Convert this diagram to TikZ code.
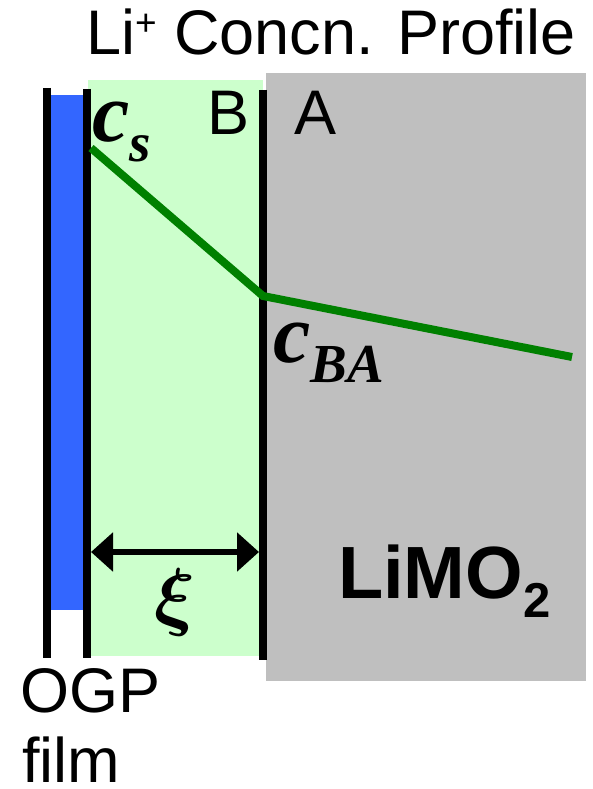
\RequirePackage{fix-cm}
\documentclass[tikz,border=0pt]{standalone}
\usepackage{bm}
\usepackage{fontspec}
\setmainfont{Liberation Sans}
\newfontfamily\tnr{Liberation Serif}
\usepackage{tikz}
\usetikzlibrary{arrows.meta}
\usepackage{xcolor}

\definecolor{filmblue}{HTML}{3366FF}
\definecolor{layergreen}{HTML}{CCFFCC}
\definecolor{profgreen}{HTML}{008000}

\newcommand{\conc}[1]{{\tnr\bfseries\itshape\fontsize{84}{84}\selectfont c\raisebox{-20pt}{\fontsize{55}{55}\selectfont #1}}}

\begin{document}
\begin{tikzpicture}[x=1pt, y=-1pt,
    wall/.style={line width=7.7pt},
    lbl/.style={inner sep=0pt, anchor=base west, font=\fontsize{63}{63}\selectfont},
    conclbl/.style={inner sep=0pt, anchor=base west}]
    \useasboundingbox (0,0) rectangle (592,789);

    % 各层区域
    \fill[gray!50] (266,73) rectangle (586,681);
    \fill[layergreen] (88,80) rectangle (263,656);
    \fill[filmblue] (47,95) rectangle (87,610);

    % 界面
    \draw[wall] (47,88) -- (47,658);
    \draw[wall] (87,89) -- (87,658);
    \draw[wall] (263,90) -- (263,660);

    % 浓度曲线
    \coordinate (cs) at (91,148);
    \coordinate (cba) at (263,296);
    \coordinate (cend) at (572,357);
    \draw[profgreen, line width=8pt] (cs) -- (cba) -- (cend);

    % 厚度 xi
    \coordinate (xil) at (91,552);
    \coordinate (xir) at (259,552);
    \draw[line width=6pt, {Triangle[length=22pt,width=38pt]}-{Triangle[length=22pt,width=38pt]}] (xil) -- (xir);
    \node[inner sep=0pt, anchor=base] (xi) at (175,621) {\fontsize{76}{76}\selectfont$\bm{\xi}$};

    % 文字
    \node[lbl] (title) at (86,55) {Li\raisebox{19pt}{\fontsize{37}{37}\selectfont +} Concn. Profile};
    \node[lbl] (lb) at (207,135) {B};
    \node[lbl] (la) at (294,135) {A};
    \node[lbl] (ogp) at (20,712) {OGP};
    \node[lbl] (film) at (22,782) {film};
    \node[conclbl] (ncs) at (92,142) {\conc{s}};
    \node[conclbl] (ncba) at (273,362) {\conc{BA}};
    \node[inner sep=0pt, anchor=base west, font=\bfseries\fontsize{74}{74}\selectfont] (limo) at (338,598) {LiMO\raisebox{-19pt}{\fontsize{49}{49}\selectfont 2}};
\end{tikzpicture}
\end{document}
